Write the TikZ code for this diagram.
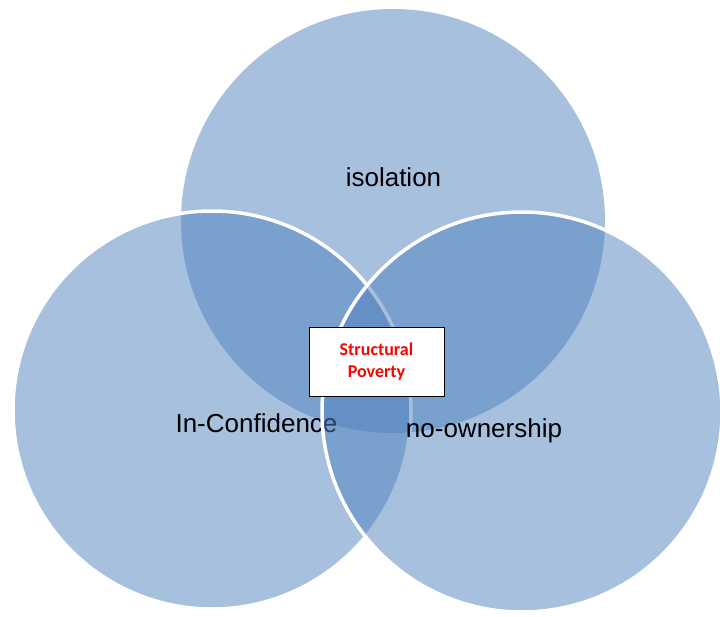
\documentclass[tikz,border=0pt]{standalone}
\usepackage{fontspec}
\setmainfont{Liberation Sans}
\newfontfamily\boxfont{Carlito}
\definecolor{vennblue}{HTML}{4F81BD}
\tikzset{
	venn/.style={fill=vennblue,fill opacity=0.5,draw=white,line width=3.5pt},
	lbl/.style={anchor=base,inner sep=0pt,font=\fontsize{26}{30}\selectfont},
	core/.style={draw=black,fill=white,line width=1pt,minimum width=135pt,minimum height=69pt,
		align=center,text=red,font=\boxfont\bfseries\fontsize{18}{22}\selectfont}
}
\begin{document}
\begin{tikzpicture}[x=1pt,y=-1pt]
	\useasboundingbox (0,0) rectangle (720,616);
	% top circle
	\fill[vennblue,opacity=0.5] (393,221) circle[radius=212];
	\node[lbl] (iso) at (393.5,186) {isolation};
	% left circle
	\draw[venn] (212,410) circle[radius=199];
	\node[lbl] (conf) at (256.5,432) {In-Confidence};
	% right circle
	\draw[venn] (522,412) circle[radius=200];
	\node[lbl] (own) at (484,437) {no-ownership};
	% centre
	\node[core] (pov) at (376.5,361.5) {Structural\\Poverty};
\end{tikzpicture}
\end{document}
